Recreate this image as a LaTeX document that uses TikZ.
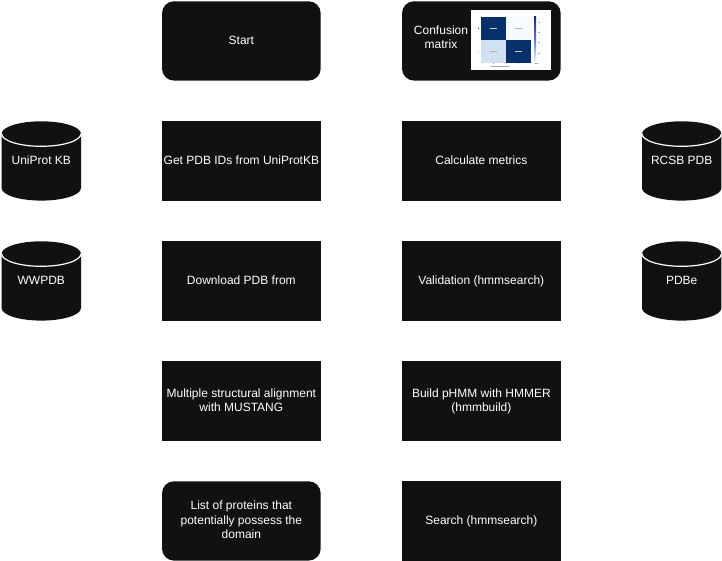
\documentclass[tikz,border=0pt]{standalone}
\usepackage{fontspec}
\setmainfont{Liberation Sans}
\definecolor{boxfill}{HTML}{111111}
\definecolor{cmdark}{HTML}{08306B}
\definecolor{cmlight}{HTML}{F7FBFF}
\definecolor{cmmid}{HTML}{D0E1F2}
\tikzset{
    stepbox/.style={fill=boxfill, text=white, minimum width=158.7pt, minimum height=79.3pt,
        inner sep=0pt, align=center, text depth=2pt, font=\fontsize{12}{14.4}\selectfont},
    roundbox/.style={stepbox, rounded corners=12pt},
    dblabel/.style={text=white, inner sep=0pt, text depth=2pt, font=\fontsize{12}{14.4}\selectfont},
    tinymark/.style={fill=gray!70},
}
\begin{document}
\begin{tikzpicture}[x=1pt, y=-1pt]
        \useasboundingbox (0,0) rectangle (722,561) ;
        % left column
        \node[roundbox] (start) at (241.35,40.95) {Start} ;
        \node[stepbox] (getids) at (241.35,160.95) {Get PDB IDs from UniProtKB} ;
        \node[stepbox] (download) at (241.35,280.95) {Download PDB from} ;
        \node[stepbox] (mustang) at (241.35,400.95) {Multiple structural alignment\\with MUSTANG} ;
        \node[roundbox] (proteins) at (241.35,520.95) {List of proteins that\\potentially possess the\\domain} ;
        % right column
        \node[roundbox] (confusion) at (481.35,40.95) {} ;
        \node[stepbox] (metrics) at (481.35,160.95) {Calculate metrics} ;
        \node[stepbox] (validation) at (481.35,280.95) {Validation (hmmsearch)} ;
        \node[stepbox] (build) at (481.35,400.95) {Build pHMM with HMMER\\(hmmbuild)} ;
        \node[stepbox] (search) at (481.35,520.95) {Search (hmmsearch)} ;
        % confusion matrix picture
        \node[dblabel, align=center] (cmtext) at (441,38) {Confusion\\matrix} ;
        \fill[white] (471,10) rectangle (551,70) ;
        \fill[cmdark] (481,16.7) rectangle (506,39.7) ;
        \fill[cmlight] (506,16.7) rectangle (530.7,39.7) ;
        \fill[cmmid] (481,39.7) rectangle (506,62.7) ;
        \fill[cmdark] (506,39.7) rectangle (530.7,62.7) ;
        \shade[top color=cmdark, bottom color=cmlight, middle color=blue!45!cmdark!60!white] (534,16.7) rectangle (536.2,62.7) ;
        \fill[gray!40] (490,28) rectangle (497,29) ;
        \fill[gray!60] (515,28) rectangle (522,29) ;
        \fill[gray!60] (490,51) rectangle (497,52) ;
        \fill[gray!40] (515,51) rectangle (522,52) ;
        \fill[black!80] (477.5,28) rectangle (478.5,29) ;
        \fill[gray!30] (477,51) rectangle (478.5,52) ;
        \foreach \ty in {22,32.5,42.5,53}
            \fill[tinymark] (537.5,\ty) rectangle (540,\ty+1) ;
        \fill[tinymark] (535,63) rectangle (538,64) ;
        \fill[tinymark] (493,63.5) rectangle (494,64.5) ;
        \fill[gray!40] (518,63.5) rectangle (519,64.5) ;
        \fill[tinymark] (491,66.5) rectangle (509,67.5) ;
        % databases
        \foreach \nm/\cx/\cy/\txt in {uniprot/41.3/160.95/UniProt KB, wwpdb/41.3/280.95/WWPDB,
                rcsb/681.7/160.95/RCSB PDB, pdbe/681.7/280.95/PDBe}{
            \fill[boxfill] (\cx-39.7,\cy-27.15) arc (180:360:39.7 and 12.5)
                -- (\cx+39.7,\cy+27.15) arc (0:180:39.7 and 12.5) -- cycle ;
            \draw[white, line width=1.2pt] (\cx-39.7,\cy-27.15) arc (180:0:39.7 and 12.5) ;
            \node[dblabel] (\nm) at (\cx,\cy) {\txt} ;
        }
\end{tikzpicture}
\end{document}
